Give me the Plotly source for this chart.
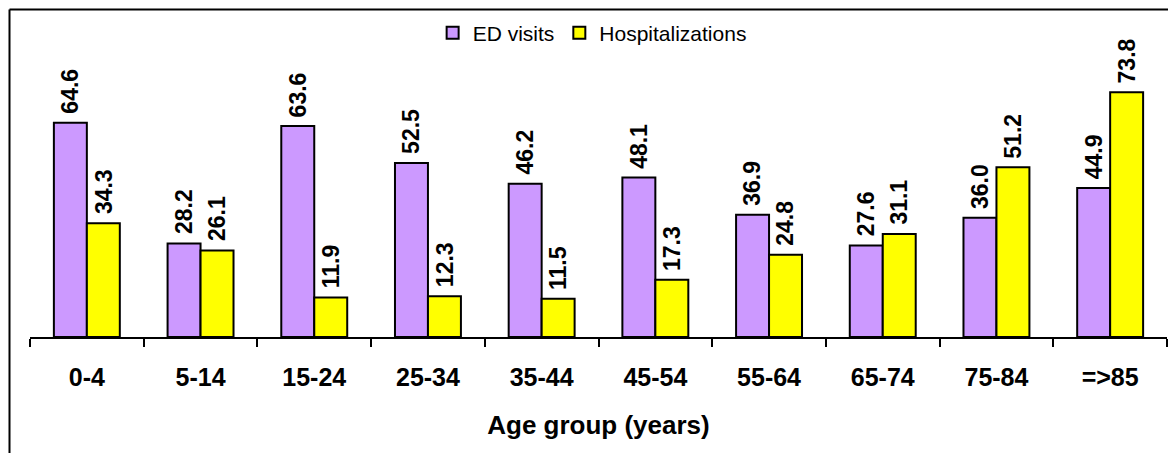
import plotly.graph_objects as go

categories = ["0-4", "5-14", "15-24", "25-34", "35-44", "45-54", "55-64", "65-74", "75-84", "=>85"]
ed_visits = [64.6, 28.2, 63.6, 52.5, 46.2, 48.1, 36.9, 27.6, 36.0, 44.9]
hospitalizations = [34.3, 26.1, 11.9, 12.3, 11.5, 17.3, 24.8, 31.1, 51.2, 73.8]

FONT = "Liberation Sans, Arial, sans-serif"
OFF = 8  # page body margin
W, H = 1176 - 2 * OFF, 461 - 2 * OFF
ML, MR, MT, MB = 30 - OFF, 1176 - 1167 - OFF, 22 - OFF, 461 - 337 - OFF
PH = H - MT - MB
PW = W - ML - MR
BARGAP = 0.42
BAR_PX = PW / len(categories) * (1 - BARGAP) / 2

fig = go.Figure()
fig.add_trace(go.Bar(x=categories, y=ed_visits, name="ED visits",
                     marker=dict(color="#CC99FF", line=dict(color="black", width=2))))
fig.add_trace(go.Bar(x=categories, y=hospitalizations, name="Hospitalizations",
                     marker=dict(color="#FFFF00", line=dict(color="black", width=2))))

annotations = []
for series, shift in ((ed_visits, -BAR_PX / 2), (hospitalizations, BAR_PX / 2)):
    for cat, val in zip(categories, series):
        annotations.append(dict(
            x=cat, y=val, xref="x", yref="y", text=f"{val:.1f}", showarrow=False,
            textangle=-90, xanchor="center", yanchor="bottom", xshift=shift, yshift=7,
            font=dict(family=FONT, size=23, color="black", weight="bold"),
        ))

def px_x(p):
    return (p - OFF - ML) / PW

def px_y(p):
    return 1 + (MT - (p - OFF)) / PH

fig.update_layout(
    width=W, height=H,
    margin=dict(l=ML, r=MR, t=MT, b=MB, autoexpand=False),
    paper_bgcolor="white", plot_bgcolor="white",
    barmode="group", bargap=BARGAP, bargroupgap=0,
    font=dict(family=FONT, color="black"),
    showlegend=True,
    legend=dict(orientation="h", x=0.4944, xanchor="center", y=px_y(33), yanchor="middle",
                font=dict(family=FONT, size=21, color="black"),
                bgcolor="rgba(0,0,0,0)", itemwidth=30, tracegroupgap=0),
    xaxis=dict(
        showline=True, linecolor="black", linewidth=2,
        ticks="outside", tickson="boundaries", ticklen=8, tickwidth=2, tickcolor="black",
        tickfont=dict(family=FONT, size=25, color="black", weight="bold"),
        ticklabelstandoff=17,
        title=dict(text="Age group (years)", font=dict(family=FONT, size=26, color="black", weight="bold"),
                   standoff=26),
        showgrid=False, zeroline=False,
    ),
    yaxis=dict(visible=False, range=[0, 95], showgrid=False, zeroline=False),
    annotations=annotations,
    shapes=[
        dict(type="line", xref="paper", yref="paper", x0=px_x(9.5), x1=px_x(1200),
             y0=px_y(9.5), y1=px_y(9.5), line=dict(color="black", width=2)),
        dict(type="line", xref="paper", yref="paper", x0=px_x(9.5), x1=px_x(9.5),
             y0=px_y(9.5), y1=px_y(480), line=dict(color="black", width=2)),
    ],
)

fig.write_html("out.html")
